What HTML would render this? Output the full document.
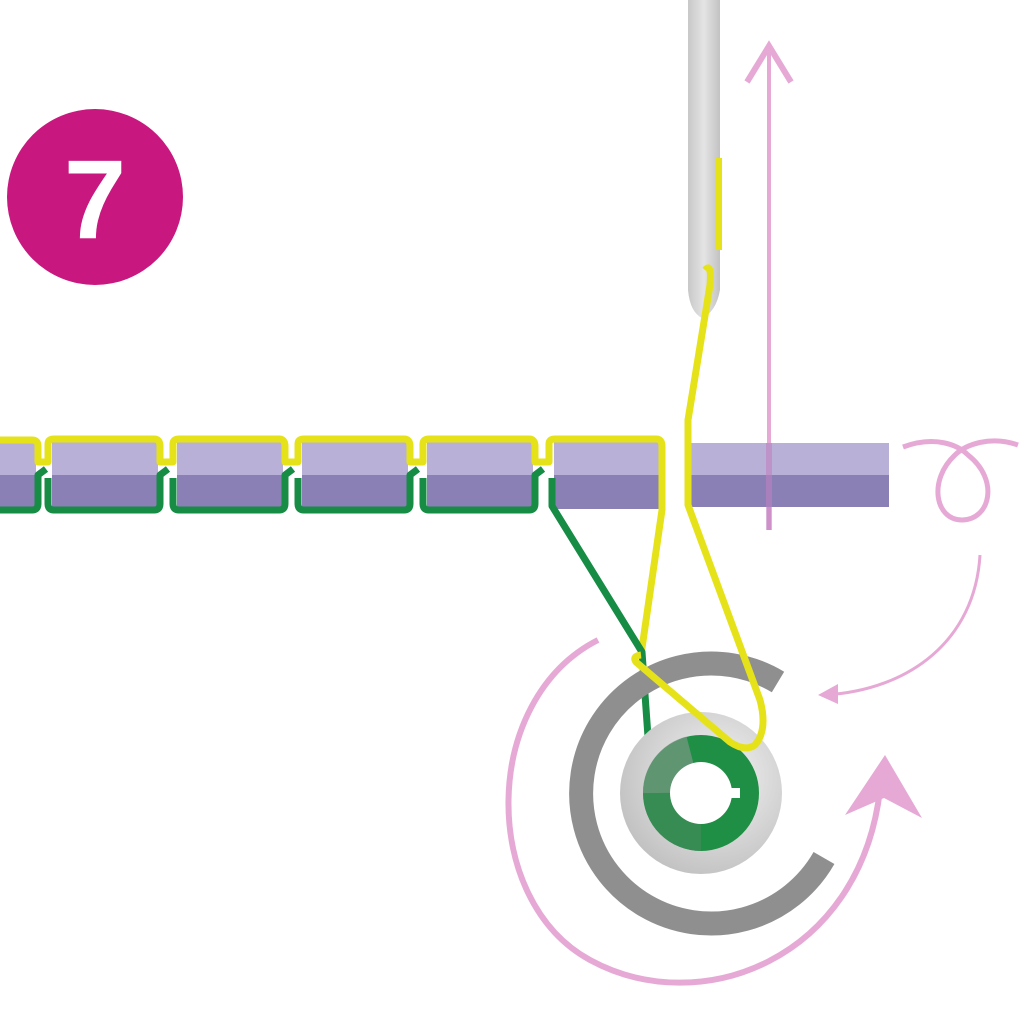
<!DOCTYPE html>
<html><head><style>html,body{margin:0;padding:0;background:#fff}svg{display:block}</style></head>
<body>
<svg width="1024" height="1024" viewBox="0 0 1024 1024" xmlns="http://www.w3.org/2000/svg">
<defs>
<linearGradient id="ndl" x1="0" x2="1"><stop offset="0" stop-color="#c8c8c8"/><stop offset=".5" stop-color="#e4e4e4"/><stop offset="1" stop-color="#c2c2c2"/></linearGradient>
<radialGradient id="disk" cx=".6" cy=".4" r=".7"><stop offset="0" stop-color="#f4f4f4"/><stop offset="1" stop-color="#bdbdbd"/></radialGradient>
</defs>
<circle cx="95" cy="197" r="88" fill="#c8177f"/>
<text x="95" y="238" text-anchor="middle" font-family="Liberation Sans, sans-serif" font-weight="bold" font-size="112" fill="#fff">7</text>

<!-- needle -->
<path d="M688 0 V290 Q690 312 702 318 Q716 312 720 290 V0 Z" fill="url(#ndl)"/>
<rect x="716" y="158" width="6" height="92" fill="#e6e21a"/>

<line x1="769" y1="52" x2="769" y2="530" stroke="#e6a9d6" stroke-width="4"/>
<path d="M747 82 L769 46 L791 82" fill="none" stroke="#e6a9d6" stroke-width="6"/>

<rect x="690" y="443" width="199" height="32" fill="#b8b0d6"/>
<rect x="690" y="475" width="199" height="32" fill="#8a80b6"/>
<rect x="766" y="443" width="6" height="87" fill="#c080c0" opacity=".6"/>

<g>
<rect x="0" y="441" width="36" height="34" fill="#b8b0d6"/><rect x="0" y="475" width="36" height="34" fill="#8a80b6"/>
<g id="seg">
<rect x="52" y="441" width="106" height="34" fill="#b8b0d6"/>
<rect x="52" y="475" width="106" height="34" fill="#8a80b6"/>
</g>
<use href="#seg" x="125"/><use href="#seg" x="250"/><use href="#seg" x="375"/><use href="#seg" x="502"/>
</g>
<path d="M0 440 H32 Q38 440 38 446 V462 H48 V444 Q48 439 54 439 H154 Q160 439 160 446 V462 H173 V444 Q173 439 179 439 H279 Q285 439 285 446 V462 H298 V444 Q298 439 304 439 H404 Q410 439 410 446 V462 H423 V444 Q423 439 429 439 H529 Q535 439 535 446 V462 H549 V444 Q549 439 555 439 H656 Q662 439 662 446 V510 L641 655" fill="none" stroke="#e6e21a" stroke-width="7" stroke-linejoin="round"/>
<path d="M0 510 H32 Q38 510 38 504 V475 L46 469 M48 478 V504 Q48 510 54 510 H154 Q160 510 160 504 V475 L168 469 M173 478 V504 Q173 510 179 510 H279 Q285 510 285 504 V475 L293 469 M298 478 V504 Q298 510 304 510 H404 Q410 510 410 504 V475 L418 469 M423 478 V504 Q423 510 429 510 H529 Q535 510 535 504 V475 L543 469 M552 478 V506 L642 652 L650 765" fill="none" stroke="#168c45" stroke-width="7" stroke-linejoin="round"/>

<!-- hook ring -->
<path d="M778 682 A130 130 0 1 0 824 858" fill="none" stroke="#8f8f8f" stroke-width="24"/>
<circle cx="701" cy="793" r="81" fill="url(#disk)"/>
<circle cx="701" cy="793" r="44" fill="none" stroke="#1f8f45" stroke-width="28"/>
<path d="M657 793 A44 44 0 0 1 690 750" fill="none" stroke="#8a9a90" stroke-width="28" opacity=".6"/>
<path d="M657 793 A44 44 0 0 0 701 837" fill="none" stroke="#4f8a63" stroke-width="28" opacity=".5"/>
<circle cx="701" cy="793" r="31" fill="#fff"/>
<rect x="722" y="788" width="18" height="10" fill="#fff"/>

<path d="M705 270 Q712 262 710 285 L688 420 V505 L760 700 Q768 730 755 745 Q745 752 730 742 L636 662 Q632 656 641 655" fill="none" stroke="#e6e21a" stroke-width="7" stroke-linejoin="round"/>

<path d="M598 640 C480 700 480 900 590 960 C700 1020 860 960 880 790" fill="none" stroke="#e6a9d6" stroke-width="6"/>
<path d="M845 815 L885 755 L922 818 L884 798 Z" fill="#e6a9d6"/>
<path d="M980 555 C975 640 910 690 825 695" fill="none" stroke="#e6a9d6" stroke-width="3"/>
<path d="M838 684 L818 695 L838 704 Z" fill="#e6a9d6"/>
<path d="M903 447 C935 435 958 445 968 455 C1000 480 990 520 962 520 C935 520 928 480 955 455 C965 445 990 435 1018 445" fill="none" stroke="#e6a9d6" stroke-width="5"/>
</svg>
</body></html>
